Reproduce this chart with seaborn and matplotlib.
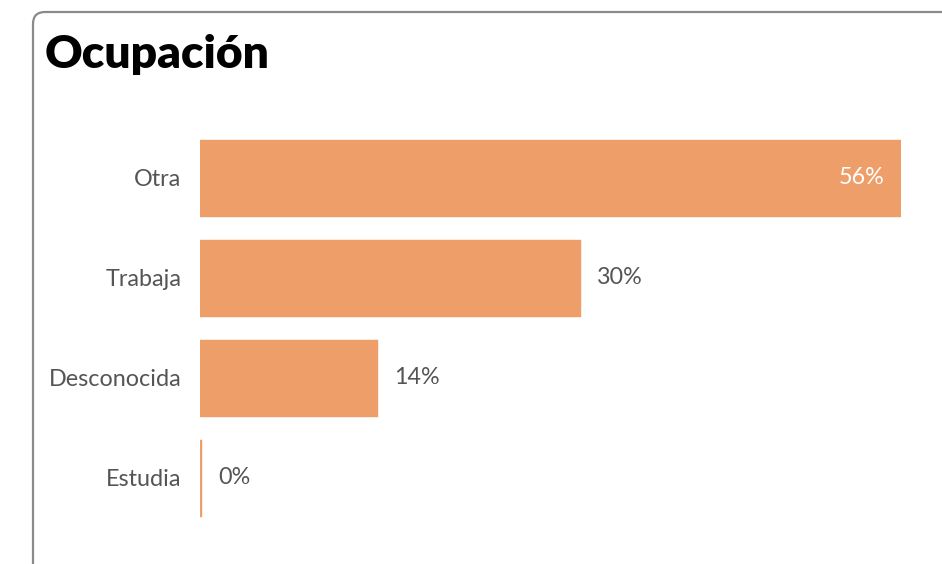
import matplotlib
matplotlib.use('Agg')
import pandas as pd
import seaborn as sns
import matplotlib.pyplot as plt
from matplotlib.patches import FancyBboxPatch

# DATA
categories = ['Otra', 'Trabaja', 'Desconocida', 'Estudia']
values = [56.0, 30.4, 14.2, 0.15]
labels = ['56%', '30%', '14%', '0%']

df = pd.DataFrame({'categoria': categories, 'valor': values})

sns.set_style('white')
plt.rcParams['font.family'] = ['Lato', 'DejaVu Sans']

fig = plt.figure(figsize=(9.42, 5.64), dpi=100)
ax = fig.add_axes([200 / 942, 1 - 528 / 564, 701 / 942, 400 / 564])

sns.barplot(data=df, x='valor', y='categoria', color='#EE9E68', saturation=1,
            width=0.77, edgecolor='#EE9E68', linewidth=0.3, ax=ax)

ax.set_xlim(0, 56)
ax.set_ylim(3.5, -0.5)
ax.set_xlabel('')
ax.set_ylabel('')
ax.set_xticks([])
sns.despine(ax=ax, left=True, bottom=True)
ax.tick_params(axis='y', length=0, pad=13.5, labelsize=16.8, labelcolor='#555555')

# VALUE LABELS
for i, (v, lab) in enumerate(zip(values, labels)):
    if v > 45:
        ax.annotate(lab, (v, i), xytext=(-17, 0), textcoords='offset pixels',
                    ha='right', va='center', color='white', fontsize=16.8)
    else:
        ax.annotate(lab, (v, i), xytext=(16, 0), textcoords='offset pixels',
                    ha='left', va='center', color='#555555', fontsize=16.8)

# CARD BORDER
card = FancyBboxPatch((33, -30), 960, 582, boxstyle='round,pad=0,rounding_size=12',
                      transform=None, facecolor='none', edgecolor='#8a8a8a',
                      linewidth=1.6, clip_on=False)
fig.add_artist(card)

fig.text(45 / 942, 1 - 68 / 564, 'Ocupación', fontsize=33.3, fontweight='heavy',
         color='black', ha='left', va='baseline')

plt.savefig('out.png', dpi=100)
plt.close()
